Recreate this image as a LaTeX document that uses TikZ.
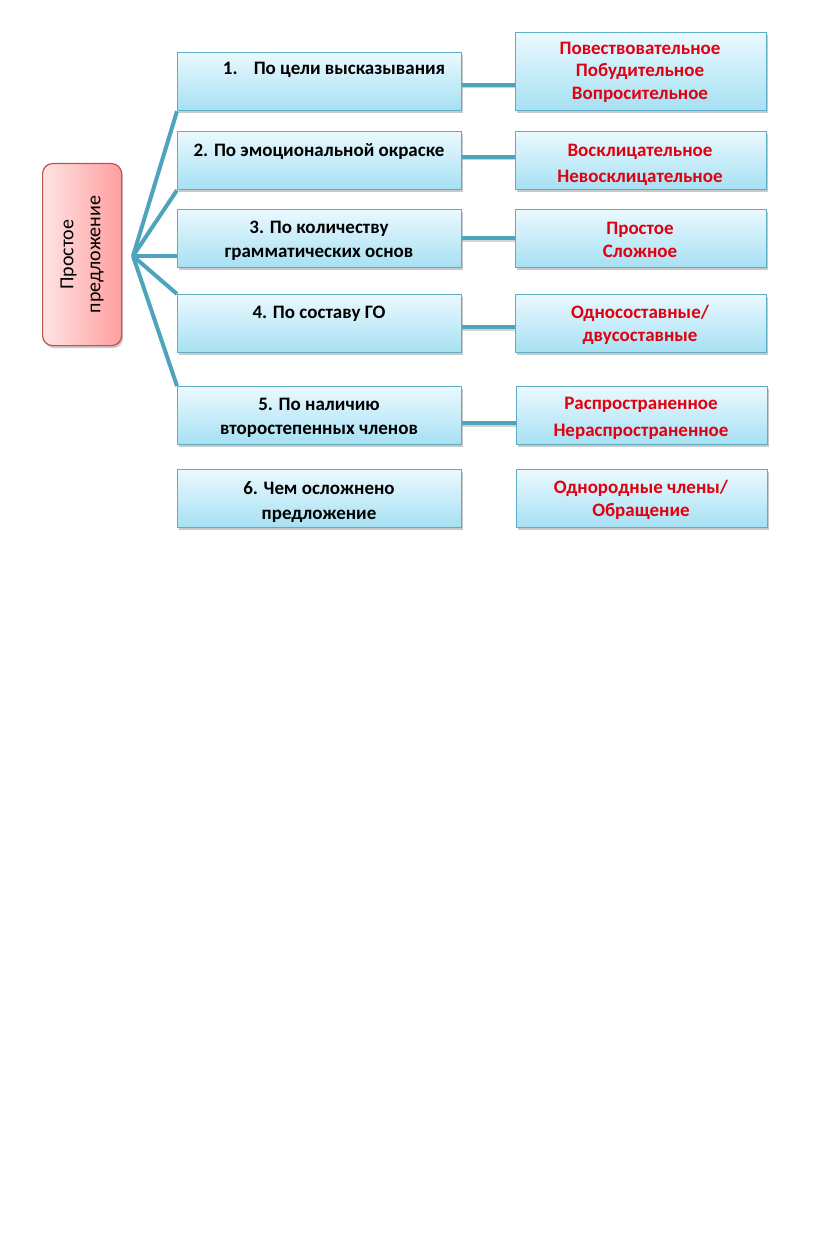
\documentclass[tikz,border=0pt]{standalone}
\usepackage{fontspec}
\setmainfont{Carlito}
\usetikzlibrary{shadows}
\definecolor{bborder}{HTML}{5FADC4}
\definecolor{btop}{HTML}{EAF9FE}
\definecolor{bbot}{HTML}{A6E0F3}
\definecolor{conncol}{HTML}{4FA3BC}
\definecolor{redtxt}{HTML}{E00010}
\definecolor{pinkl}{HTML}{FFE4E4}
\definecolor{pinkr}{HTML}{FF9E9E}
\definecolor{pinkborder}{HTML}{C0504D}
\tikzset{
  catbox/.style={draw=bborder, line width=1.2pt, top color=btop, bottom color=bbot,
    anchor=north west, inner sep=0pt, minimum width=284pt, minimum height=58pt,
    drop shadow={shadow xshift=1.5pt, shadow yshift=-2.5pt, opacity=0.35, fill=black!60}},
  valbox/.style={catbox, minimum width=251pt},
  cattxt/.style={font=\bfseries\fontsize{19}{24.5}\selectfont, align=center, inner sep=0pt, text=black},
  valtxt/.style={font=\bfseries\fontsize{19}{22.5}\selectfont, align=center, inner sep=0pt, text=redtxt},
  conn/.style={draw=conncol, line width=4pt},
  connshadow/.style={draw=black!35, line width=4pt, opacity=0.5},
}
\begin{document}
\begin{tikzpicture}[x=1pt,y=-1pt]
\useasboundingbox[fill=white] (0,0) rectangle (816,1252);

% root
\node[draw=pinkborder, line width=1.2pt, left color=pinkl, right color=pinkr, rounded corners=10pt,
  anchor=north west, minimum width=79pt, minimum height=182pt, inner sep=0pt,
  drop shadow={shadow xshift=1.5pt, shadow yshift=-2.5pt, opacity=0.35, fill=black!60}] (root) at (42,163) {};
\node[rotate=90, font=\fontsize{20}{27}\selectfont, align=center, inner sep=0pt] (roottxt) at (root.center) {Простое\\предложение};

% category boxes
\node[catbox] (b1) at (177,52) {};
\node[catbox] (b2) at (177,131) {};
\node[catbox] (b3) at (177,209) {};
\node[catbox] (b4) at (177,294) {};
\node[catbox] (b5) at (177,386) {};
\node[catbox] (b6) at (177,469) {};

% value boxes
\node[valbox, minimum height=78pt] (r1) at (515,32) {};
\node[valbox] (r2) at (515,131) {};
\node[valbox] (r3) at (515,209) {};
\node[valbox] (r4) at (515,294) {};
\node[valbox] (r5) at (516,386) {};
\node[valbox] (r6) at (516,469) {};

% category texts
\node[cattxt] (t1) at (334,70) {1.\hspace{0.85em}По цели высказывания};
\node[cattxt] (t2) at (319,152) {2. По эмоциональной окраске};
\node[cattxt] (t3) at (319,241) {3. По количеству\\грамматических основ};
\node[cattxt] (t4) at (319,314) {4. По составу ГО};
\node[cattxt] (t5) at (319,418) {5. По наличию\\второстепенных членов};
\node[cattxt] (t6) at (319,502) {6. Чем осложнено\\предложение};

% value texts
\node[valtxt] (v1) at (640,72) {Повествовательное\\Побудительное\\Вопросительное};
\node[valtxt, font=\bfseries\fontsize{19}{26}\selectfont] (v2) at (640,165) {Восклицательное\\Невосклицательное};
\node[valtxt] (v3) at (640,240) {Простое\\Сложное};
\node[valtxt] (v4) at (640,325) {Односоставные/\\двусоставные};
\node[valtxt, font=\bfseries\fontsize{19}{27}\selectfont] (v5) at (641,418) {Распространенное\\Нераспространенное};
\node[valtxt] (v6) at (641,500) {Однородные члены/\\Обращение};

% hub connectors
\coordinate (hub) at (133,256);
\foreach \a/\b in {hub/b1.south west, hub/b2.south west, hub/b4.north west, hub/b5.north west}{
  \draw[conn] (\a) -- (\b);
}
\draw[conn] (hub) -- (hub -| b3.west);

% horizontal connectors
\foreach \l/\r/\y in {b1/r1/85, b2/r2/157, b3/r3/238, b4/r4/327, b5/r5/423}{
  \draw[connshadow] ([yshift=-1.5pt]\l.east |- 0,\y) -- ([yshift=-1.5pt]\r.west |- 0,\y);
  \draw[conn] (\l.east |- 0,\y) -- (\r.west |- 0,\y);
}
\end{tikzpicture}
\end{document}
